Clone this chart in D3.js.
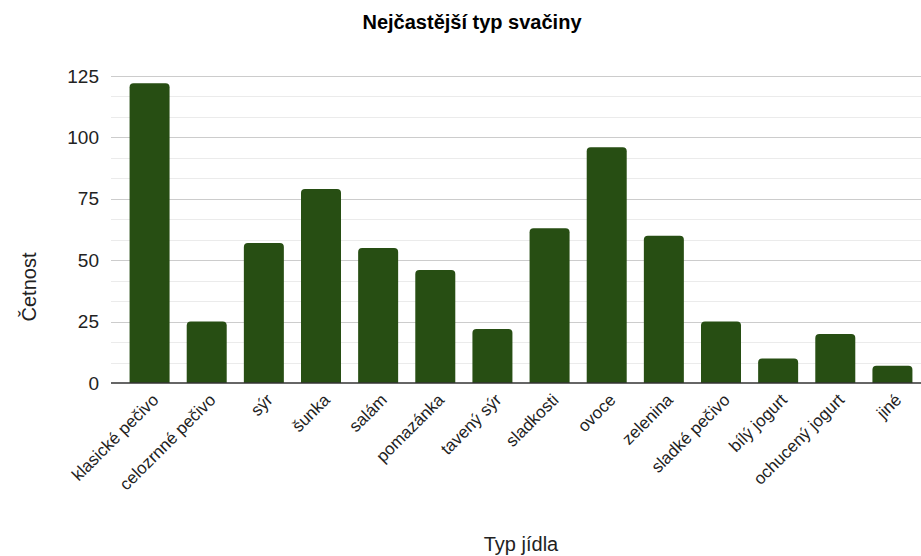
<!DOCTYPE html>
<html>
<head>
<meta charset="utf-8">
<script src="https://cdn.jsdelivr.net/npm/d3@7"></script>
<style>
  body { margin: 0; background: #fff; }
  text { font-family: "Liberation Sans", Arial, sans-serif; }
</style>
</head>
<body>
<div id="wrapper"></div>
<script>
// data
const categories = ["klasické pečivo", "celozrnné pečivo", "sýr", "šunka", "salám", "pomazánka",
  "tavený sýr", "sladkosti", "ovoce", "zelenina", "sladké pečivo", "bílý jogurt", "ochucený jogurt", "jiné"];
const counts = [122, 25, 57, 79, 55, 46, 22, 63, 96, 60, 25, 10, 20, 7];
const yTicks = [0, 25, 50, 75, 100, 125];

const dataset = categories.map((c, i) => ({ cat: c, n: counts[i] }));

const width = 921, height = 556;
const dims = { left: 111, right: 921, top: 76, bottom: 383 };

const svg = d3.select("#wrapper").append("svg")
  .attr("width", width)
  .attr("height", height);

const x = d3.scaleBand()
  .domain(categories)
  .range([121, 921])
  .paddingInner(0.3)
  .paddingOuter(0.15);

const y = d3.scaleLinear()
  .domain([0, 125])
  .range([dims.bottom, dims.top]);

// minor grid (every 25/3)
const minor = d3.range(0, 125.01, 25 / 3).filter(v => Math.abs(v % 25) > 0.01 && Math.abs(v % 25 - 25) > 0.01);
svg.append("g").selectAll("line").data(minor).join("line")
  .attr("x1", dims.left).attr("x2", dims.right)
  .attr("y1", d => Math.round(y(d)) + 0.5).attr("y2", d => Math.round(y(d)) + 0.5)
  .attr("stroke", "#ebebeb");

// major grid
svg.append("g").selectAll("line").data(yTicks.slice(1)).join("line")
  .attr("x1", dims.left).attr("x2", dims.right)
  .attr("y1", d => Math.round(y(d)) + 0.5).attr("y2", d => Math.round(y(d)) + 0.5)
  .attr("stroke", "#cccccc");

// y axis labels
const yAxis = svg.append("g")
  .attr("transform", `translate(${dims.left}, 0)`)
  .call(d3.axisLeft(y).tickValues(yTicks).tickSize(0).tickPadding(12));
yAxis.select(".domain").remove();
yAxis.selectAll("text")
  .attr("font-family", "'Liberation Sans', Arial, sans-serif")
  .attr("font-size", 19)
  .attr("fill", "#222");

// bars (rounded top)
const r = 4;
svg.append("g").selectAll("path").data(dataset).join("path")
  .attr("d", d => {
    const x0 = x(d.cat), w = x.bandwidth(), y0 = y(d.n), y1 = y(0);
    return `M${x0},${y1}V${y0 + r}Q${x0},${y0} ${x0 + r},${y0}H${x0 + w - r}Q${x0 + w},${y0} ${x0 + w},${y0 + r}V${y1}Z`;
  })
  .attr("fill", "#274e13");

// baseline
svg.append("line")
  .attr("x1", dims.left).attr("x2", dims.right)
  .attr("y1", y(0)).attr("y2", y(0))
  .attr("stroke", "#333").attr("stroke-width", 1.5);

// x axis labels
const xAxis = svg.append("g")
  .attr("transform", `translate(0, ${dims.bottom})`)
  .call(d3.axisBottom(x).tickSize(0).tickPadding(0));
xAxis.select(".domain").remove();
xAxis.selectAll("text")
  .attr("font-family", "'Liberation Sans', Arial, sans-serif")
  .attr("font-size", 17)
  .attr("fill", "#222")
  .attr("text-anchor", "end")
  .attr("dy", 0)
  .attr("y", 0)
  .attr("transform", "translate(10, 18) rotate(-45)");

// title
svg.append("text")
  .attr("x", 472).attr("y", 29)
  .attr("text-anchor", "middle")
  .attr("font-size", 20).attr("font-weight", "bold")
  .attr("fill", "#000")
  .text("Nejčastější typ svačiny");

// axis titles
svg.append("text")
  .attr("x", 521).attr("y", 551)
  .attr("text-anchor", "middle")
  .attr("font-size", 20).attr("fill", "#222")
  .text("Typ jídla");

svg.append("text")
  .attr("transform", "translate(36, 287) rotate(-90)")
  .attr("text-anchor", "middle")
  .attr("font-size", 20).attr("fill", "#222")
  .text("Četnost");
</script>
</body>
</html>
